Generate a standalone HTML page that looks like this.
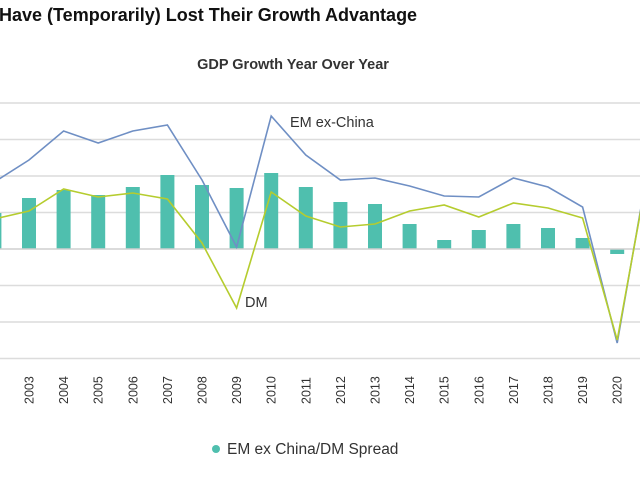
<!DOCTYPE html>
<html><head><meta charset="utf-8"><style>
html,body{margin:0;padding:0;background:#fff;}
svg{display:block;font-family:"Liberation Sans",sans-serif;}
</style></head><body>
<svg width="640" height="480" viewBox="0 0 640 480" xmlns="http://www.w3.org/2000/svg">
<text x="-1" y="21" font-size="18" font-weight="bold" fill="#111">Have (Temporarily) Lost Their Growth Advantage</text>
<text x="293" y="69" font-size="14.5" font-weight="bold" fill="#333" text-anchor="middle">GDP Growth Year Over Year</text>
<g stroke="#dcdcdc" stroke-width="1.5">
<line x1="0" y1="103" x2="640" y2="103"/>
<line x1="0" y1="139.5" x2="640" y2="139.5"/>
<line x1="0" y1="176" x2="640" y2="176"/>
<line x1="0" y1="212.5" x2="640" y2="212.5"/>
<line x1="0" y1="285.5" x2="640" y2="285.5"/>
<line x1="0" y1="322" x2="640" y2="322"/>
<line x1="0" y1="358.5" x2="640" y2="358.5"/>
</g>
<g fill="#4fbfae">
<rect x="-12.6" y="213" width="14" height="36"/>
<rect x="22" y="198" width="14" height="51"/>
<rect x="56.6" y="190" width="14" height="59"/>
<rect x="91.2" y="195" width="14" height="54"/>
<rect x="125.8" y="187" width="14" height="62"/>
<rect x="160.4" y="175" width="14" height="74"/>
<rect x="195" y="185" width="14" height="64"/>
<rect x="229.6" y="188" width="14" height="61"/>
<rect x="264.2" y="173" width="14" height="76"/>
<rect x="298.8" y="187" width="14" height="62"/>
<rect x="333.4" y="202" width="14" height="47"/>
<rect x="368" y="204" width="14" height="45"/>
<rect x="402.6" y="224" width="14" height="25"/>
<rect x="437.2" y="240" width="14" height="9"/>
<rect x="471.8" y="230" width="14" height="19"/>
<rect x="506.4" y="224" width="14" height="25"/>
<rect x="541" y="228" width="14" height="21"/>
<rect x="575.6" y="238" width="14" height="11"/>
<rect x="610.2" y="249" width="14" height="5"/>
</g>
<line x1="0" y1="249" x2="640" y2="249" stroke="#cfcfcf" stroke-width="1.5"/>
<polyline fill="none" stroke="#6f8fc4" stroke-width="1.6" points="-5.6,182 29,160 63.6,131 98.2,143 132.8,131 167.4,125 202,180 236.6,247 271.2,116 305.8,155 340.4,180 375,178 409.6,186 444.2,196 478.8,197 513.4,178 548,187 582.6,207 617.2,343 651.8,146"/>
<polyline fill="none" stroke="#b5cc2e" stroke-width="1.6" points="-5.6,219 29,211 63.6,189 98.2,197 132.8,193 167.4,199 202,243 236.6,308 271.2,192 305.8,216 340.4,227 375,224 409.6,211 444.2,205 478.8,217 513.4,203 548,208 582.6,218 617.2,340 651.8,150"/>
<text x="290" y="127" font-size="14.5" fill="#333">EM ex-China</text>
<text x="245" y="307" font-size="14.5" fill="#333">DM</text>
<g font-size="12.5" fill="#333">
<text transform="translate(33.5,404) rotate(-90)">2003</text>
<text transform="translate(68.1,404) rotate(-90)">2004</text>
<text transform="translate(102.7,404) rotate(-90)">2005</text>
<text transform="translate(137.3,404) rotate(-90)">2006</text>
<text transform="translate(171.9,404) rotate(-90)">2007</text>
<text transform="translate(206.5,404) rotate(-90)">2008</text>
<text transform="translate(241.1,404) rotate(-90)">2009</text>
<text transform="translate(275.7,404) rotate(-90)">2010</text>
<text transform="translate(310.3,404) rotate(-90)">2011</text>
<text transform="translate(344.9,404) rotate(-90)">2012</text>
<text transform="translate(379.5,404) rotate(-90)">2013</text>
<text transform="translate(414.1,404) rotate(-90)">2014</text>
<text transform="translate(448.7,404) rotate(-90)">2015</text>
<text transform="translate(483.3,404) rotate(-90)">2016</text>
<text transform="translate(517.9,404) rotate(-90)">2017</text>
<text transform="translate(552.5,404) rotate(-90)">2018</text>
<text transform="translate(587.1,404) rotate(-90)">2019</text>
<text transform="translate(621.7,404) rotate(-90)">2020</text>
<text transform="translate(-1,404) rotate(-90)">2002</text>
</g>
<circle cx="216" cy="449" r="4" fill="#4fbfae"/>
<text x="227" y="454" font-size="15.5" fill="#333">EM ex China/DM Spread</text>
</svg>
</body></html>
